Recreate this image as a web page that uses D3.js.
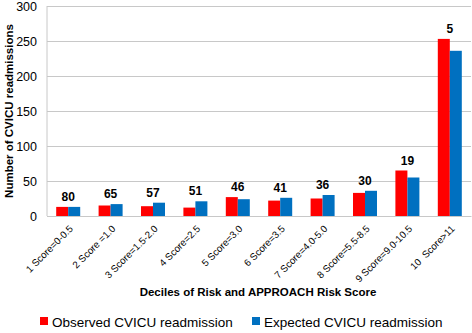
<!DOCTYPE html>
<html>
<head>
<meta charset="utf-8">
<script src="https://cdn.jsdelivr.net/npm/d3@7"></script>
<style>
  body { margin: 0; background: #fff; }
  svg { font-family: "Liberation Sans", Arial, sans-serif; }
</style>
</head>
<body>
<svg id="drawing_region"></svg>
<script>
const categories = ["1 Score=0-0.5", "2 Score =1.0", "3 Score=1.5-2.0", "4 Score=2.5", "5 Score=3.0",
    "6 Score=3.5", "7 Score=4.0-5.0", "8 Score=5.5-8.5", "9 Score=9.0-10.5", "10  Score>11"];
const observed = [13, 15, 14, 12, 27, 22, 25, 33, 65, 253];
const expected = [13, 17, 19, 21, 24, 26, 30, 36, 55, 236];
const pointLabels = ["80", "65", "57", "51", "46", "41", "36", "30", "19", "5"];
const yTicks = [0, 50, 100, 150, 200, 250, 300];
const seriesNames = ["Observed CVICU readmission", "Expected CVICU readmission"];
const colors = ["#ff0000", "#0070c0"];

const config = {
    width: 472,
    height: 333,
    margin: {top: 6, right: 1, bottom: 117, left: 47}
};

const svg = d3.select('#drawing_region')
    .attr('width', config.width)
    .attr('height', config.height);

const inner_width = config.width - config.margin.left - config.margin.right;
const inner_height = config.height - config.margin.top - config.margin.bottom;

const chart = svg.append('g')
    .attr('transform', `translate(${config.margin.left}, ${config.margin.top})`);

const xscale = d3.scaleBand()
    .domain(categories)
    .range([0, inner_width]);

const xsub = d3.scaleBand()
    .domain([0, 1])
    .range([xscale.bandwidth()/2 - 12, xscale.bandwidth()/2 + 12]);

const yscale = d3.scaleLinear()
    .domain([0, 300])
    .range([inner_height, 0]);

// gridlines
const yaxis = d3.axisLeft(yscale)
    .tickValues(yTicks)
    .tickSize(-inner_width)
    .tickPadding(10);

const yaxis_group = chart.append('g').call(yaxis);
yaxis_group.select('.domain').remove();
yaxis_group.selectAll('.tick line').attr('stroke', '#c8c8c8').attr('stroke-width', 1);
yaxis_group.selectAll('.tick text')
    .attr('font-size', 12.5)
    .attr('fill', '#000');

chart.append('line')
    .attr('x1', 0).attr('x2', 0)
    .attr('y1', 0).attr('y2', inner_height)
    .attr('stroke', '#c8c8c8');

// bars
const groups = chart.selectAll('.grp')
    .data(categories)
    .enter()
    .append('g')
    .attr('transform', d => `translate(${xscale(d)},0)`);

groups.append('rect')
    .attr('x', xsub(0))
    .attr('width', xsub.bandwidth())
    .attr('y', (d, i) => yscale(observed[i]))
    .attr('height', (d, i) => inner_height - yscale(observed[i]))
    .attr('fill', colors[0]);

groups.append('rect')
    .attr('x', xsub(1))
    .attr('width', xsub.bandwidth())
    .attr('y', (d, i) => yscale(expected[i]))
    .attr('height', (d, i) => inner_height - yscale(expected[i]))
    .attr('fill', colors[1]);

groups.append('text')
    .attr('x', xscale.bandwidth()/2)
    .attr('y', (d, i) => yscale(Math.max(observed[i], expected[i])) - 6)
    .attr('text-anchor', 'middle')
    .attr('font-size', 12)
    .attr('font-weight', 'bold')
    .text((d, i) => pointLabels[i]);

// x axis
const xaxis = d3.axisBottom(xscale).tickSize(0).tickPadding(0);
const xaxis_group = chart.append('g')
    .attr('transform', `translate(0, ${inner_height})`)
    .call(xaxis);
xaxis_group.select('.domain').attr('stroke', '#c8c8c8');
xaxis_group.selectAll('.tick text')
    .attr('font-size', 9.8)
    .attr('fill', '#000')
    .attr('text-anchor', 'end')
    .attr('y', 0)
    .attr('dy', '0.35em')
    .style('white-space', 'pre')
    .attr('transform', 'translate(3,11) rotate(-45)');

// axis titles
svg.append('text')
    .attr('x', 258)
    .attr('y', 296)
    .attr('text-anchor', 'middle')
    .attr('font-size', 11.5)
    .attr('font-weight', 'bold')
    .text('Deciles of Risk and APPROACH Risk Score');

svg.append('text')
    .attr('transform', `translate(13, ${config.margin.top + inner_height/2}) rotate(-90)`)
    .attr('text-anchor', 'middle')
    .attr('font-size', 11.5)
    .attr('font-weight', 'bold')
    .text('Number of CVICU readmissions');

// legend
const legendX = [40, 252];
const legend = svg.selectAll('.legend')
    .data(seriesNames)
    .enter()
    .append('g')
    .attr('transform', (d, i) => `translate(${legendX[i]}, 322)`);

legend.append('rect')
    .attr('x', 0).attr('y', -5)
    .attr('width', 8).attr('height', 8)
    .attr('fill', (d, i) => colors[i]);

legend.append('text')
    .attr('x', 12)
    .attr('y', 0)
    .attr('dy', '0.35em')
    .attr('font-size', 13.5)
    .text(d => d);
</script>
</body>
</html>
